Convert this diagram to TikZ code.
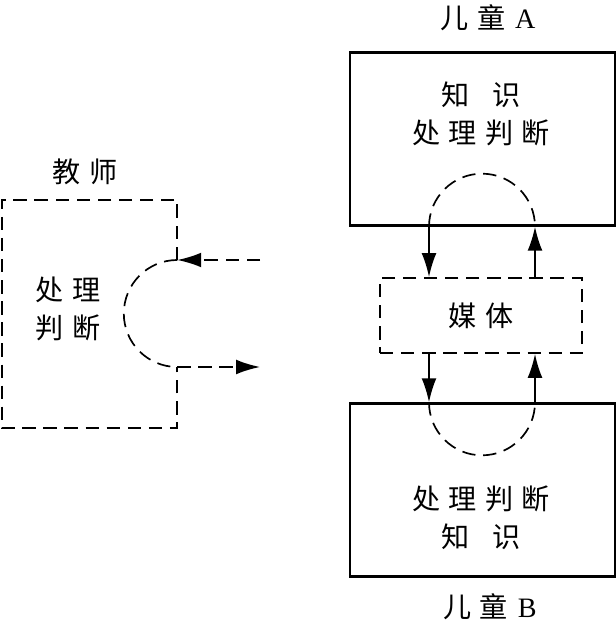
\documentclass[tikz,border=0pt]{standalone}
\usepackage{fontspec}
\setmainfont{Liberation Serif}
\newfontfamily\cjk[LetterSpace=30]{Noto Sans CJK SC}
\usetikzlibrary{arrows.meta}

\begin{document}
\begin{tikzpicture}[x=0.025cm,y=0.025cm,
  every node/.style={font=\fontsize{20pt}{27pt}\selectfont\cjk},
  childbox/.style={draw,line width=1.8pt,minimum width=6.625cm,minimum height=4.32cm},
  dashline/.style={line width=1.2pt,dash pattern=on 9.5pt off 5.5pt},
  dashbox/.style={draw,dashline},
  arr/.style={-{Latex[length=17pt,width=10.5pt]},line width=1.2pt},
  dasharr/.style={arr,dashline}
]
  \useasboundingbox (0,0) rectangle (616,626);

  % teacher
  \node[inner sep=0pt,minimum width=4.375cm,minimum height=5.7cm] (teacher) at (89.5,312) {};
  \node (tlabel) at (85,454) {教师};
  \node[align=center] (ttext) at (68,317) {处理\\判断};
  \coordinate (inT) at (260,366);
  \coordinate (outT) at (260,259);
  \draw[dashline] (inT -| teacher.east) -- (teacher.north east) -- (teacher.north west)
    -- (teacher.south west) -- (teacher.south east) -- (outT -| teacher.east);
  \draw[dashline] (inT -| teacher.east) arc[start angle=90,end angle=270,radius=53.5];
  \draw[dasharr] (inT) -- (inT -| teacher.east);
  \draw[dasharr] (outT -| teacher.east) -- (outT);

  % children and media
  \node[childbox] (childA) at (482.5,487) {};
  \node[childbox] (childB) at (482.5,136) {};
  \node[dashbox,minimum width=5.05cm,minimum height=1.875cm] (media) at (481,310.5) {媒体};
  \node (alabel) at (488,608) {儿童\hspace{0.35em}{\rmfamily A}};
  \node (blabel) at (490,19) {儿童\hspace{0.35em}{\rmfamily B}};
  \node[align=center] (atext) at (481,512) {知\hspace{0.8em}识\\处理判断};
  \node[align=center] (btext) at (481,108) {处理判断\\知\hspace{0.8em}识};

  \coordinate (lx) at (429,0);
  \coordinate (rx) at (535,0);
  \draw[dashline] (lx |- childA.south) arc[start angle=180,end angle=0,radius=53];
  \draw[dashline] (lx |- childB.north) arc[start angle=180,end angle=360,radius=53];
  \draw[arr] (lx |- childA.south) -- (lx |- media.north);
  \draw[arr] (rx |- media.north) -- (rx |- childA.south);
  \draw[arr] (lx |- media.south) -- (lx |- childB.north);
  \draw[arr] (rx |- childB.north) -- (rx |- media.south);
\end{tikzpicture}
\end{document}
